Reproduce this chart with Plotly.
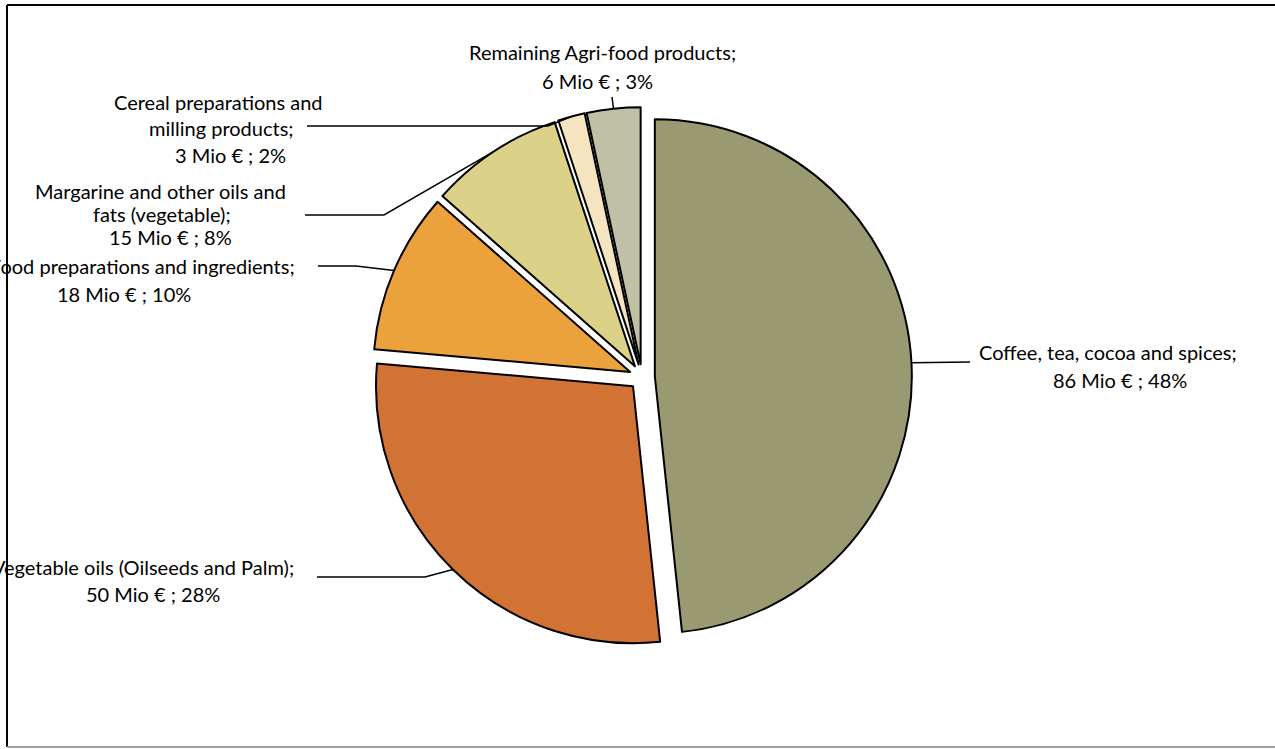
import math
import textwrap
import plotly.graph_objects as go

# ---------------- data ----------------
categories = [
    "Coffee, tea, cocoa and spices",
    "Vegetable oils (Oilseeds and Palm)",
    "Food preparations and ingredients",
    "Margarine and other oils and fats (vegetable)",
    "Cereal preparations and milling products",
    "Remaining Agri-food products",
]
values_mio_eur = [86, 50, 18, 15, 3, 6]
colors = ["#9A9A72", "#D07334", "#EBA13C", "#DCD188", "#F4E4C0", "#C0C0A6"]

# ---------------- layout constants (pixels) ----------------
W, H = 1275, 749
CX, CY = 642, 377      # pie centre
R = 257                # pie radius
PULL = 0.05
D = 2 * R * (1 + PULL)
FONT = "Lato"
FS = 20

wrap_widths = [40, 40, 40, 28, 23, 40]
# per label: list of (x, y, xanchor) for each text line
line_pos = [
    [(1108, 352, "center"), (1120, 380, "center")],
    [(296, 567, "right"), (153, 594, "center")],
    [(297, 266, "right"), (124, 294, "center")],
    [(160, 191, "center"), (162, 214, "center"), (170, 237, "center")],
    [(218, 102, "center"), (222, 128, "center"), (230, 155, "center")],
    [(602, 52, "center"), (597, 81, "center")],
]
# leader line points on the label side (before reaching the slice)
leader_pts = [
    [(970, 362)],
    [(317, 577), (425, 577)],
    [(318, 266), (356, 266)],
    [(305, 215), (384, 215)],
    [(307, 126), (548, 126)],
    [(612, 97)],
]


def px(x):
    return x / W


def py(y):
    return 1 - y / H


total = sum(values_mio_eur)

fig = go.Figure(
    go.Pie(
        labels=categories,
        values=values_mio_eur,
        sort=False,
        direction="clockwise",
        rotation=0,
        pull=[PULL] * len(values_mio_eur),
        marker=dict(colors=colors, line=dict(color="black", width=2)),
        textinfo="none",
        hovertemplate="%{label}: %{value} Mio € (%{percent})<extra></extra>",
        domain=dict(
            x=[px(CX - D / 2), px(CX + D / 2)],
            y=[py(CY + D / 2), py(CY - D / 2)],
        ),
        showlegend=False,
    )
)

annotations = []
shapes = []
cum = 0.0
for i, (name, v) in enumerate(zip(categories, values_mio_eur)):
    frac = v / total
    mid = (cum + frac / 2) * 2 * math.pi
    cum += frac
    dx, dy = math.sin(mid), -math.cos(mid)
    ax = CX + R * (1 + PULL) * dx
    ay = CY + R * (1 + PULL) * dy

    lines = textwrap.wrap(name + ";", width=wrap_widths[i])
    lines.append(f"{v} Mio € ; {round(100 * v / total)}%")
    for text, (x, y, xa) in zip(lines, line_pos[i]):
        annotations.append(
            dict(
                x=px(x), y=py(y), xref="paper", yref="paper",
                text=text, showarrow=False, xanchor=xa, yanchor="middle",
                font=dict(family=FONT, size=FS, color="black"),
            )
        )

    pts = leader_pts[i] + [(ax, ay)]
    path = "M " + " L ".join(f"{px(x):.5f},{py(y):.5f}" for x, y in pts)
    shapes.append(
        dict(type="path", path=path, xref="paper", yref="paper",
             line=dict(color="black", width=1.5))
    )

# chart border
shapes += [
    dict(type="line", xref="paper", yref="paper", x0=px(7), y0=py(5), x1=px(1275), y1=py(5),
         line=dict(color="black", width=2)),
    dict(type="line", xref="paper", yref="paper", x0=px(7), y0=py(5), x1=px(7), y1=py(747),
         line=dict(color="black", width=2)),
    dict(type="line", xref="paper", yref="paper", x0=px(7), y0=py(747), x1=px(1275), y1=py(747),
         line=dict(color="#A0A0A0", width=2)),
]

fig.update_layout(
    width=W, height=H,
    margin=dict(l=0, r=0, t=0, b=0),
    paper_bgcolor="white",
    plot_bgcolor="white",
    annotations=annotations,
    shapes=shapes,
)

fig.write_html(
    "out.html",
    config={"displayModeBar": False},
    post_script="document.body.style.margin='0';",
)
